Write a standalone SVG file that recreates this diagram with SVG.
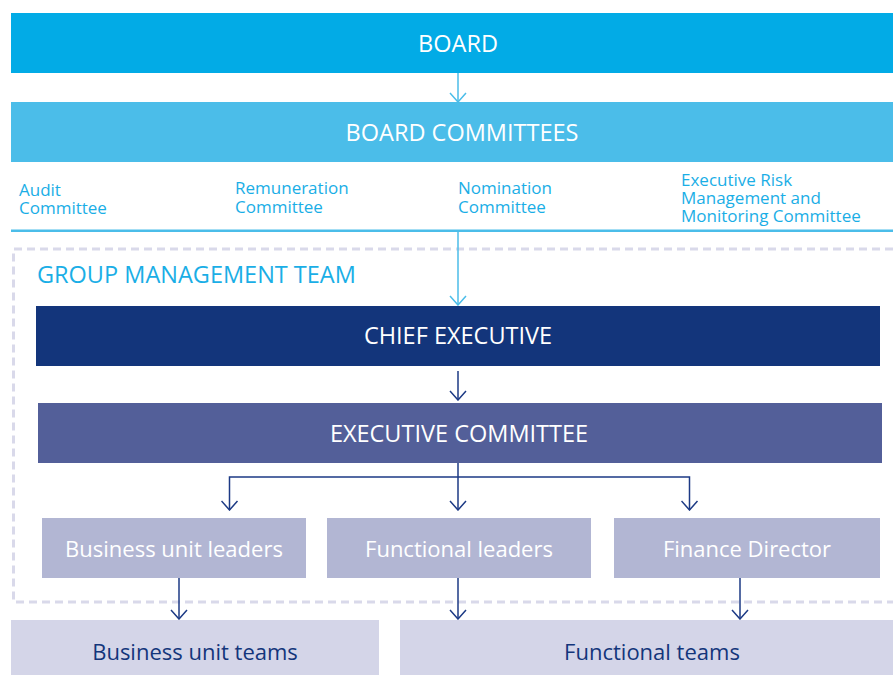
<svg xmlns="http://www.w3.org/2000/svg" width="893" height="675" viewBox="0 0 893 675">
  <style>
    text { font-family: "Open Sans", "Noto Sans", "Liberation Sans", sans-serif; }
    .title { font-size: 22px; fill: #ffffff; text-anchor: middle; }
    .caps { font-size: 23.5px; }
    .committee { font-size: 17px; fill: #1aaee6; }
    .group { font-size: 23.5px; fill: #1aaee6; }
    .team { font-size: 22px; fill: #13357b; text-anchor: middle; }
    .c-light { stroke: #4bbde9; stroke-width: 1.5; fill: none; }
    .c-dark { stroke: #1c3a85; stroke-width: 1.5; fill: none; }
  </style>
  <defs>
    <marker id="head-light" markerWidth="18" markerHeight="12" refX="9" refY="11" orient="0" markerUnits="userSpaceOnUse" viewBox="0 0 18 12">
      <polyline points="1,2 9,11 17,2" stroke="#4bbde9" stroke-width="1.5" fill="none"/>
    </marker>
    <marker id="head-dark" markerWidth="18" markerHeight="12" refX="9" refY="11" orient="0" markerUnits="userSpaceOnUse" viewBox="0 0 18 12">
      <polyline points="1,2 9,11 17,2" stroke="#1c3a85" stroke-width="1.5" fill="none"/>
    </marker>
  </defs>

  <rect width="893" height="675" fill="#ffffff"/>

  <!-- Group management team boundary -->
  <g id="group-management-team">
    <path d="M 893 249 L 13.5 249 L 13.5 602 L 893 602" fill="none" stroke="#d9d9ea" stroke-width="3" stroke-dasharray="8 5"/>
    <text class="group" x="37" y="283">GROUP MANAGEMENT TEAM</text>
  </g>

  <g id="board">
    <rect x="11" y="13" width="882" height="60" fill="#02abe6"/>
    <text class="title caps" x="458" y="52">BOARD</text>
  </g>

  <g id="board-committees">
    <rect x="11" y="102" width="882" height="60" fill="#4bbde9"/>
    <text class="title caps" x="462" y="141">BOARD COMMITTEES</text>
  </g>

  <g id="committee-list">
    <text class="committee" x="19" y="196">Audit</text>
    <text class="committee" x="19" y="214">Committee</text>
    <text class="committee" x="235" y="194">Remuneration</text>
    <text class="committee" x="235" y="213">Committee</text>
    <text class="committee" x="458" y="194">Nomination</text>
    <text class="committee" x="458" y="213">Committee</text>
    <text class="committee" x="681" y="186">Executive Risk</text>
    <text class="committee" x="681" y="204">Management and</text>
    <text class="committee" x="681" y="222">Monitoring Committee</text>
    <rect x="11" y="229.5" width="882" height="2.5" fill="#4bbde9"/>
  </g>

  <g id="chief-executive">
    <rect x="36" y="306" width="844" height="60" fill="#13357b"/>
    <text class="title caps" x="458" y="344">CHIEF EXECUTIVE</text>
  </g>

  <g id="executive-committee">
    <rect x="38" y="403" width="844" height="60" fill="#535f99"/>
    <text class="title caps" x="459" y="442">EXECUTIVE COMMITTEE</text>
  </g>

  <g id="business-unit-leaders">
    <rect x="42" y="518" width="264" height="60" fill="#b2b6d3"/>
    <text class="title" x="174" y="557">Business unit leaders</text>
  </g>
  <g id="functional-leaders">
    <rect x="327" y="518" width="264" height="60" fill="#b2b6d3"/>
    <text class="title" x="459" y="557">Functional leaders</text>
  </g>
  <g id="finance-director">
    <rect x="614" y="518" width="266" height="60" fill="#b2b6d3"/>
    <text class="title" x="747" y="557">Finance Director</text>
  </g>

  <g id="business-unit-teams">
    <rect x="11" y="620" width="368" height="55" fill="#d4d5e8"/>
    <text class="team" x="195" y="660">Business unit teams</text>
  </g>
  <g id="functional-teams">
    <rect x="400" y="620" width="493" height="55" fill="#d4d5e8"/>
    <text class="team" x="652" y="660">Functional teams</text>
  </g>

  <!-- Connectors -->
  <g id="connectors">
    <path class="c-light" d="M 458 73 L 458 102" marker-end="url(#head-light)"/>
    <path class="c-light" d="M 458 232 L 458 305" marker-end="url(#head-light)"/>
    <path class="c-dark" d="M 458 371 L 458 400" marker-end="url(#head-dark)"/>
    <path class="c-dark" d="M 458 463 L 458 510" marker-end="url(#head-dark)"/>
    <path class="c-dark" d="M 229.5 510 L 229.5 477 L 689.5 477 L 689.5 510" marker-start="url(#head-dark)" marker-end="url(#head-dark)"/>
    <path class="c-dark" d="M 179 578 L 179 619" marker-end="url(#head-dark)"/>
    <path class="c-dark" d="M 458 578 L 458 619" marker-end="url(#head-dark)"/>
    <path class="c-dark" d="M 740 578 L 740 619" marker-end="url(#head-dark)"/>
  </g>
</svg>
